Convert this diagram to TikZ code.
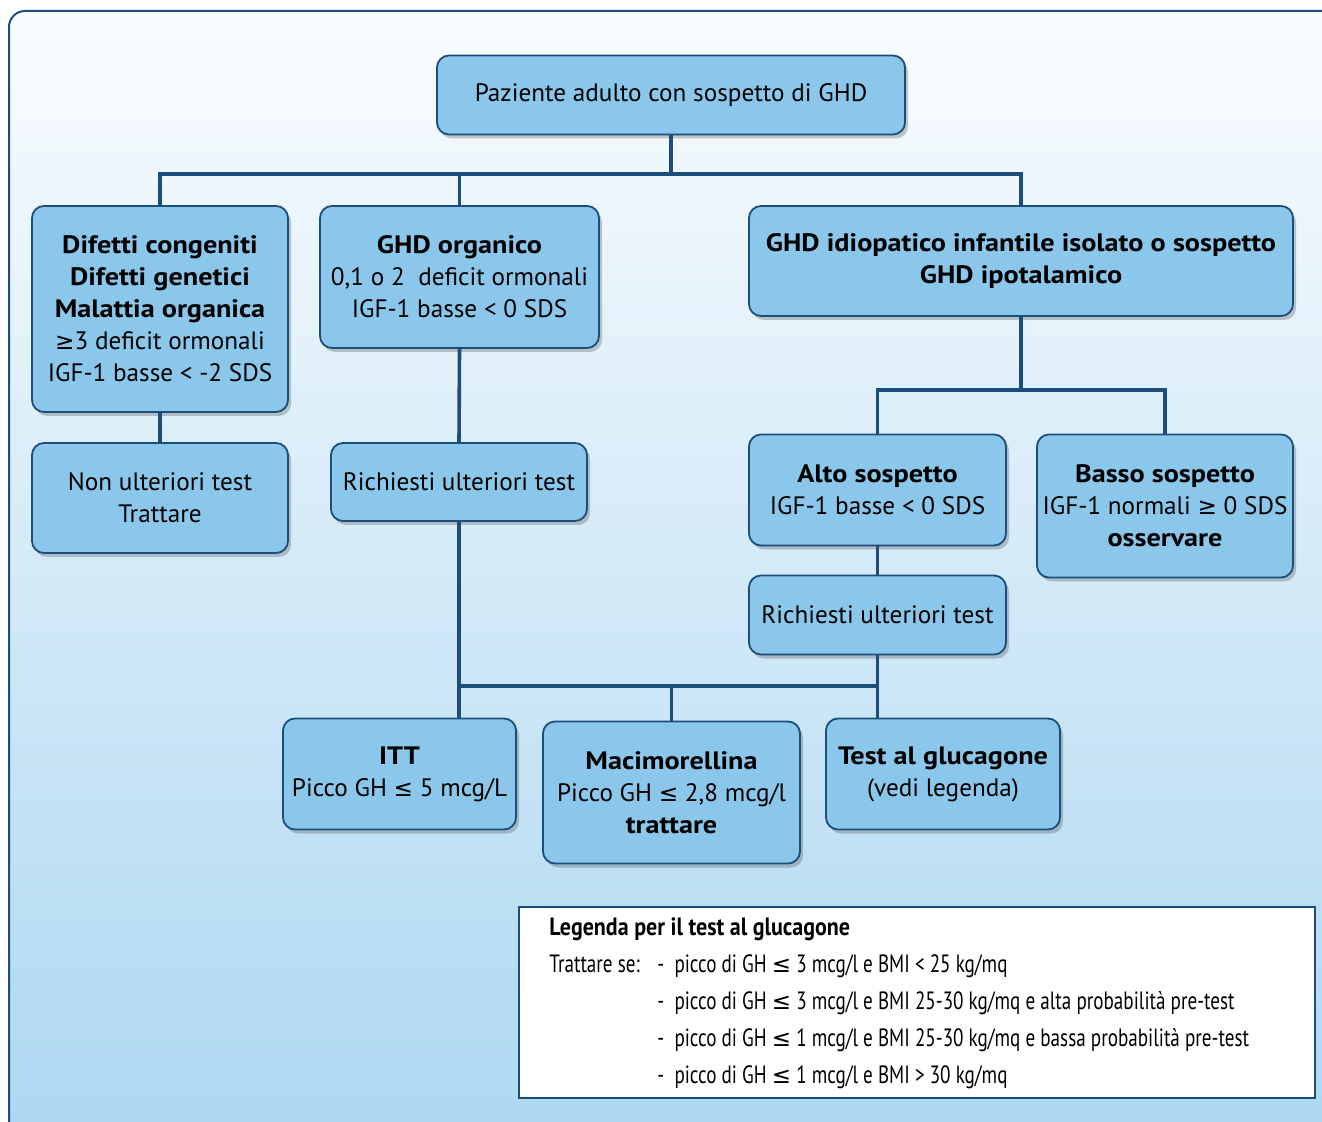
\documentclass[tikz,border=0pt]{standalone}
\usepackage{fontspec}
\setmainfont{PT Sans}[BoldFeatures={FakeStretch=1.12}]
\newfontfamily\legfont[FakeStretch=0.765]{PT Sans}
\newfontfamily\legbfont[FakeStretch=0.88]{PT Sans}
\newfontfamily\symfont[Scale=0.92]{DejaVu Sans}
\newcommand{\lesym}{{\symfont ≤}}
\newcommand{\gesym}{{\symfont ≥}}
\usetikzlibrary{shadows}

\definecolor{boxblue}{HTML}{8BC7EB}
\definecolor{darkblue}{HTML}{1C4E7C}
\definecolor{bgtop}{HTML}{FAFCFE}
\definecolor{bgbottom}{HTML}{ACD7F1}

\begin{document}
\begin{tikzpicture}[x=0.5pt, y=-0.5pt,
	box/.style={draw=darkblue, line width=0.9pt, fill=boxblue, rounded corners=6pt, align=center,
		inner sep=2pt, font=\fontsize{12.6}{16}\selectfont,
		drop shadow={shadow xshift=1.5pt, shadow yshift=-2pt, opacity=0.3, fill=black!70}},
	conn/.style={draw=darkblue, line width=1.8pt},
	legtext/.style={anchor=base west, inner sep=0pt, font=\legfont\fontsize{12.5}{16}\selectfont}]
	\clip (0,0) rectangle (1322,1122);
	\useasboundingbox (0,0) rectangle (1322,1122);
	\draw[darkblue, line width=1pt, rounded corners=8pt, top color=bgtop, bottom color=bgbottom]
		(9,11) rectangle (1345,1150);

		\node[box, minimum width=234pt, minimum height=39.5pt] (paziente) at (671,95) {Paziente adulto con sospetto di GHD};
		\node[box, minimum width=128pt, minimum height=103pt] (difetti) at (160,309) {\textbf{Difetti congeniti}\\\textbf{Difetti genetici}\\\textbf{Malattia organica}\\\gesym3 deficit ormonali\\IGF-1 basse < -2 SDS};
		\node[box, minimum width=139.5pt, minimum height=71pt] (organico) at (459.5,277) {\textbf{GHD organico}\\0,1 o 2\ \ deficit ormonali\\IGF-1 basse < 0 SDS};
		\node[box, minimum width=272pt, minimum height=55pt] (idiopatico) at (1021,261) {\textbf{GHD idiopatico infantile isolato o sospetto}\\\textbf{GHD ipotalamico}};
		\node[box, minimum width=128pt, minimum height=55pt] (nontest) at (160,498) {Non ulteriori test\\Trattare};
		\node[box, minimum width=128pt, minimum height=39pt] (richiesti1) at (459,482) {Richiesti ulteriori test};
		\node[box, minimum width=128.5pt, minimum height=55.5pt] (alto) at (877.5,490) {\textbf{Alto sospetto}\\IGF-1 basse < 0 SDS};
		\node[box, minimum width=128pt, minimum height=71.5pt] (basso) at (1165,506) {\textbf{Basso sospetto}\\IGF-1 normali \gesym\ 0 SDS\\\textbf{osservare}};
		\node[box, minimum width=128.5pt, minimum height=39.5pt] (richiesti2) at (877.5,615) {Richiesti ulteriori test};
		\node[box, minimum width=116.5pt, minimum height=55.5pt] (itt) at (399.5,774) {\textbf{ITT}\\Picco GH \lesym\ 5 mcg/L};
		\node[box, minimum width=128.5pt, minimum height=71pt] (macimorellina) at (671.5,792.5) {\textbf{Macimorellina}\\Picco GH \lesym\ 2,8 mcg/l\\\textbf{trattare}};
		\node[box, minimum width=117pt, minimum height=55.5pt] (glucagone) at (943,774) {\textbf{Test al glucagone}\\(vedi legenda)};

		\coordinate (bus1) at (0,174);
		\coordinate (bus2) at (0,390);
		\coordinate (bus3) at (0,686);

		\draw[conn] (paziente.south) -- (paziente.south |- bus1);
		\draw[conn] (difetti.north) -- (difetti.north |- bus1) -- (idiopatico.north |- bus1) -- (idiopatico.north);
		\draw[conn] (organico.north |- bus1) -- (organico.north);
		\draw[conn] (difetti.south) -- (nontest.north);
		\draw[conn] (organico.south) -- (richiesti1.north);
		\draw[conn] (idiopatico.south) -- (idiopatico.south |- bus2);
		\draw[conn] (alto.north) -- (alto.north |- bus2) -- (basso.north |- bus2) -- (basso.north);
		\draw[conn] (alto.south) -- (richiesti2.north);
		\draw[conn] (richiesti1.south) -- (richiesti1.south |- itt.north);
		\draw[conn] (richiesti1.south |- bus3) -- (richiesti2.south |- bus3);
		\draw[conn] (macimorellina.north |- bus3) -- (macimorellina.north);
		\draw[conn] (richiesti2.south) -- (richiesti2.south |- glucagone.north);

		% legenda
		\node[draw=darkblue, line width=0.8pt, fill=white, minimum width=398pt, minimum height=95.5pt, inner sep=0pt] (legenda) at (917,1002.5) {};
		\node[legtext] (legtitle) at (549,935) {\legbfont\bfseries Legenda per il test al glucagone};
		\node[legtext] (legse) at (549,972) {Trattare se:};
		\node[legtext] (leg1) at (657,972) {-\ \ picco di GH \lesym\ 3 mcg/l e BMI < 25 kg/mq};
		\node[legtext] (leg2) at (657,1009) {-\ \ picco di GH \lesym\ 3 mcg/l e BMI 25-30 kg/mq e alta probabilità pre-test};
		\node[legtext] (leg3) at (657,1046) {-\ \ picco di GH \lesym\ 1 mcg/l e BMI 25-30 kg/mq e bassa probabilità pre-test};
		\node[legtext] (leg4) at (657,1083) {-\ \ picco di GH \lesym\ 1 mcg/l e BMI > 30 kg/mq};
	\end{tikzpicture}
\end{document}
